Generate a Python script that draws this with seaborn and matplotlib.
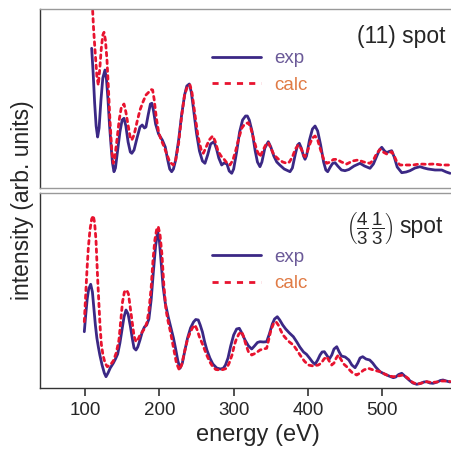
import matplotlib
matplotlib.use('Agg')
import matplotlib.pyplot as plt
import seaborn as sns

# (11) spot, energies in eV and intensities in arb. units
top_exp_energy = [109, 111, 113, 115, 117, 119, 121.5, 124, 126.9, 129, 131, 133, 135, 137, 139, 141,
                  144, 147, 150, 152.5, 155, 158, 161, 163, 166, 170, 174, 177, 180, 182, 185, 188,
                  190, 192, 195, 199, 204, 208, 211, 214, 216.6, 219, 222, 226, 230, 234, 237, 240.3,
                  243, 246, 250, 254, 258, 261.4, 265, 269, 273.6, 277, 280, 283.9, 287, 291, 294,
                  297.4, 300, 304, 308, 312, 316, 318.4, 321, 325, 329, 332, 335.4, 338, 342, 346.6,
                  350, 354, 358, 362, 368, 375.8, 379, 383, 386, 388.3, 391, 394, 396, 398, 402, 406,
                  409.5, 413, 417, 421, 424, 426.5, 430, 433, 436.4, 440, 445, 449.8, 455, 462, 470,
                  476, 483.4, 488, 492, 496, 499.2, 503, 506, 509, 512.6, 516, 520, 526.1, 532, 537.2,
                  544, 550.7, 556, 561.5, 570.9, 580, 586, 591.1]
top_exp = [13.97, 11.5, 8.5, 6.2, 5.1, 6.0, 8.8, 11.0, 11.8, 10.8, 8.8, 6.3, 4.3, 2.5, 1.63, 2.0,
           3.8, 5.6, 6.8, 6.97, 6.2, 4.6, 3.6, 3.47, 3.8, 5.0, 6.1, 6.3, 6.0, 6.1, 7.3, 8.4,
           8.47, 7.8, 6.4, 5.4, 4.8, 4.1, 2.9, 1.9, 1.63, 1.9, 2.8, 4.8, 7.3, 9.3, 10.2, 10.4,
           9.6, 7.9, 5.5, 3.7, 2.7, 2.47, 3.3, 4.4, 4.63, 3.9, 3.0, 2.3, 2.5, 2.4, 1.7,
           1.47, 1.9, 3.6, 5.6, 6.8, 7.2, 7.2, 6.8, 5.6, 3.7, 2.6, 2.13, 2.6, 4.0, 4.63,
           4.1, 3.2, 2.6, 2.3, 1.9, 1.63, 2.0, 3.4, 4.3, 4.47, 4.0, 3.2, 2.87, 3.2, 4.8, 5.9,
           6.2, 5.7, 4.3, 2.6, 1.8, 1.63, 2.1, 2.45, 2.53, 2.2, 1.8, 1.73, 1.85, 2.2, 2.47,
           2.2, 1.97, 2.4, 3.1, 3.8, 4.07, 3.7, 3.53, 3.65, 3.73, 3.1, 2.1, 1.53, 1.6, 1.73,
           2.0, 2.13, 2.0, 1.9, 1.8, 1.8, 1.6, 1.47]

top_calc_energy = [109.8, 111.5, 113.5, 116, 117.9, 120, 122, 124, 125.6, 127.5, 129.6, 131.5, 133.6,
                   136, 138.1, 140, 143, 146, 149, 152.5, 155, 158, 161, 163, 166, 170, 174, 178,
                   182, 186, 189, 191, 193, 196, 199, 202, 206, 210, 214, 218.8, 222, 226, 230, 234,
                   238, 241.3, 244, 248, 252, 256, 259.2, 263, 267, 271.8, 275, 279, 283, 286.1, 291,
                   295.1, 299, 303, 307, 311, 315, 319.7, 323, 327, 331, 335.4, 339, 343, 346.6, 350,
                   354.3, 360, 366, 371.4, 375, 379, 383, 387, 391, 394, 396, 399, 403, 406, 409.5,
                   413, 417, 421, 425.2, 430, 434, 438.7, 445, 452.1, 460, 467.3, 475, 483.4, 488,
                   492, 496.9, 501, 505.9, 509, 512.6, 516, 519, 523.8, 532, 541.3, 550, 559.7, 570,
                   580, 591.1]
top_calc = [18.5, 16.0, 13.8, 11.2, 10.3, 12.0, 14.0, 15.3, 15.57, 14.8, 12.8, 10.0, 6.8,
            3.8, 2.47, 3.0, 4.8, 6.8, 8.1, 8.4, 7.6, 6.3, 5.0, 4.8, 5.3, 6.6, 7.8, 8.6,
            9.3, 9.6, 9.85, 9.8, 8.9, 7.0, 5.6, 4.9, 4.2, 3.4, 2.6, 2.3, 2.8, 4.5, 7.2, 9.3,
            10.2, 10.3, 9.5, 7.3, 5.2, 3.9, 3.47, 4.1, 4.8, 5.2, 4.7, 3.7, 3.2, 2.97, 2.5,
            2.3, 2.8, 3.8, 5.0, 6.0, 6.4, 6.53, 6.0, 4.9, 3.8, 3.13, 3.7, 4.3, 4.53, 4.0,
            3.3, 2.9, 2.6, 2.47, 2.6, 3.1, 3.9, 4.3, 3.9, 3.3, 3.13, 3.6, 4.5, 5.0, 5.2,
            4.8, 3.8, 2.9, 2.47, 2.6, 2.85, 2.87, 2.6, 2.4, 2.7, 2.8, 2.6, 2.47, 2.8,
            3.4, 3.87, 3.6, 3.4, 3.5, 3.63, 3.2, 2.7, 2.3, 2.3, 2.3, 2.4, 2.37, 2.4,
            2.3, 2.3]

# (4/3 1/3) spot
bot_exp_energy = [99.1, 101, 103, 105, 107.7, 110, 112, 114, 116, 118, 120, 123, 126, 128.3, 131, 134,
                  138, 141, 144, 147, 150, 152.5, 155.2, 158, 161, 164, 166, 168.6, 171, 174, 177,
                  180, 183, 186, 189, 192, 195, 197.8, 200, 202.2, 205, 208, 212, 216, 219, 222, 225,
                  227.8, 231, 234.5, 238, 242, 246, 249, 252.4, 255, 258, 261, 264, 268, 272, 277.2,
                  282, 286.1, 289, 292.4, 296, 300, 304, 307.6, 311, 315.3, 320, 324.3, 328, 332,
                  335.4, 340, 344.4, 348, 352, 355, 358.7, 362, 366, 370, 375, 380.3, 385, 389, 394,
                  398, 402, 406, 409.5, 413, 416.2, 419, 422, 425, 428.7, 432, 435, 438.7, 442, 445,
                  450, 455, 459, 463.3, 467, 470, 473.6, 478, 483, 487, 491, 496.9, 503, 509, 514.8,
                  518, 522, 526.1, 530, 535.9, 541, 546.3, 551, 556, 559.7, 564, 568.2, 574, 578,
                  581.6, 586, 591.1]
bot_exp = [5.63, 7.3, 8.9, 9.9, 10.37, 9.6, 7.9, 6.3, 5.0, 4.1, 3.3, 2.3, 1.5, 1.13, 1.5, 2.0,
           2.47, 2.9, 3.4, 4.5, 5.9, 7.1, 7.8, 7.4, 6.2, 4.8, 4.0, 3.8, 4.1, 4.8, 5.6,
           6.1, 6.3, 6.9, 8.8, 11.6, 14.2, 15.63, 14.8, 12.8, 10.2, 8.5, 7.1, 5.9, 5.0, 3.9, 2.7,
           1.97, 2.5, 3.8, 5.0, 6.0, 6.6, 6.85, 6.8, 6.3, 5.6, 4.6, 3.8, 3.0, 2.4, 2.0,
           1.9, 1.97, 2.3, 3.0, 4.2, 5.3, 5.9, 5.97, 5.5, 4.8, 4.2, 3.9, 4.2, 4.55,
           4.63, 4.6, 4.63, 5.4, 6.4, 6.9, 7.13, 6.8, 6.3, 5.9, 5.5, 5.13, 4.6, 4.1, 3.6,
           3.37, 3.0, 2.6, 2.37, 2.8, 3.3, 3.6, 3.63, 3.3, 2.9, 3.3, 3.9, 4.13, 3.6, 3.2,
           3.1, 2.8, 2.3, 2.03, 2.5, 3.0, 3.13, 2.9, 2.8, 2.5, 2.1, 1.63, 1.4, 1.2, 1.03,
           1.1, 1.35, 1.47, 1.2, 0.8, 0.5, 0.37, 0.45, 0.6, 0.63, 0.5, 0.47, 0.6, 0.75,
           0.8, 0.7, 0.6]

bot_calc_energy = [99.1, 101, 102.7, 104.5, 106.7, 109, 111.2, 113, 114.8, 117, 120.2, 122, 124.2, 127,
                   130, 134, 138, 142, 145.7, 148, 150.5, 153, 156.1, 158.5, 160.5, 163, 166, 168.6,
                   171, 174, 177, 180.7, 183.5, 186.1, 189, 191.5, 194, 196.5, 198.6, 201, 203.6, 206,
                   209, 212, 215, 219.7, 223, 226.9, 230, 234.5, 238, 241.3, 244.5, 248, 251, 254,
                   258, 263.7, 268, 272.2, 276, 281.6, 286, 290.6, 294, 297.8, 301, 303.2, 307, 310.8,
                   313.5, 316.6, 320, 324.3, 330, 335.4, 340, 344.4, 347, 350.2, 353.5, 356.9, 360,
                   363, 366.4, 371, 375, 380.3, 385, 389.3, 395, 400.4, 407, 413.9, 418, 421.5, 425.2,
                   428.5, 431.9, 435, 438, 440.8, 444, 448, 452.1, 456, 460, 465.5, 470, 475, 481.1,
                   488, 496.9, 503, 509, 514.8, 521, 528.2, 534, 540, 546.3, 553, 559.7, 566, 573.2,
                   580, 586.6, 591]
bot_calc = [6.63, 9.3, 11.8, 14.0, 15.8, 16.9, 17.23, 16.5, 14.8, 11.0, 6.3, 4.4, 3.3, 2.5,
            2.13, 2.3, 2.7, 3.5, 4.8, 6.6, 8.6, 9.6, 9.8, 9.4, 8.3, 6.9, 5.2, 4.63,
            4.8, 5.3, 5.6, 6.0, 6.6, 7.8, 10.0, 12.8, 14.8, 15.9, 16.13, 15.3, 13.3, 10.4,
            7.8, 6.6, 5.6, 3.8, 2.5, 1.8, 2.3, 3.8, 4.9, 5.5, 6.0, 6.3, 5.8, 5.1,
            4.4, 3.3, 2.6, 2.1, 1.85, 1.8, 1.85, 1.97, 2.5, 3.3, 4.3, 4.8, 5.4, 5.63,
            5.1, 4.3, 3.6, 3.3, 3.5, 3.8, 3.9, 3.97, 4.8, 5.8, 6.4, 6.63, 6.3,
            5.8, 5.3, 4.9, 4.6, 4.3, 3.8, 3.3, 2.7, 2.3, 2.2, 2.3, 2.5, 2.9, 3.13,
            2.7, 2.3, 2.5, 3.0, 3.3, 2.9, 2.4, 2.13, 1.8, 1.5, 1.3, 1.5, 1.8, 1.97,
            1.8, 1.63, 1.4, 1.2, 1.13, 1.2, 1.3, 1.0, 0.6, 0.37, 0.5, 0.63, 0.55, 0.6,
            0.7, 0.7, 0.65]

xticks = [100, 200, 300, 400, 500]

sns.set_style('white')
plt.rcParams['font.family'] = ['Liberation Sans', 'DejaVu Sans']
plt.rcParams['mathtext.fontset'] = 'custom'
plt.rcParams['mathtext.rm'] = 'Liberation Sans'
plt.rcParams['mathtext.it'] = 'Liberation Sans:italic'

exp_color = '#3b2885'
calc_color = '#e8132f'

# axes run a bit past the right edge of the picture (it is cropped there)
fig = plt.figure(figsize=(4.52, 4.53), dpi=100)
ax_top = fig.add_axes([40 / 452, 1 - 188 / 453, 436 / 452, 179 / 453])
ax_bot = fig.add_axes([40 / 452, 1 - 388 / 453, 436 / 452, 195 / 453])


def draw_panel(ax, e_exp, i_exp, e_calc, i_calc, ymax, leg_y):
    sns.lineplot(x=e_exp, y=i_exp, ax=ax, color=exp_color, lw=2.0, label='exp')
    sns.lineplot(x=e_calc, y=i_calc, ax=ax, color=calc_color, lw=2.0,
                 linestyle=(0, (1.3, 1.5)), label='calc')
    for line in ax.lines:
        line.set_solid_joinstyle('round')
        line.set_dash_capstyle('round')
    ax.set_xlim(39.5, 626)
    ax.set_ylim(0, ymax)
    ax.set_yticks([])
    ax.set_ylabel('')
    ax.spines['right'].set_visible(False)
    ax.spines['left'].set_color('#333333')
    ax.spines['top'].set_color('#999999')
    ax.spines['bottom'].set_color('#999999')
    for s in ax.spines.values():
        s.set_linewidth(1.0)
    leg = ax.legend(loc='upper left', bbox_to_anchor=(0.394, leg_y), frameon=False,
                    fontsize=13.5, handlelength=2.6, handletextpad=0.75,
                    borderpad=0, borderaxespad=0, labelspacing=0.5,
                    labelcolor=['#6b5a98', '#e07b45'])
    leg.get_lines()[1].set_linestyle((0, (2.2, 2.2)))
    leg.get_lines()[1].set_dash_capstyle('butt')


draw_panel(ax_top, top_exp_energy, top_exp, top_calc_energy, top_calc, 17.9, 0.77)
draw_panel(ax_bot, bot_exp_energy, bot_exp, bot_calc_energy, bot_calc, 19.5, 0.715)

ax_top.text(0.929, 0.844, '(11) spot', transform=ax_top.transAxes, ha='right',
            va='center', fontsize=16.5)
ax_bot.text(0.924, 0.826, 'spot', transform=ax_bot.transAxes, ha='right',
            va='center', fontsize=16.5)
ax_bot.text(0.812, 0.818, r'$\left(\dfrac{4}{3}\,\dfrac{1}{3}\right)$', transform=ax_bot.transAxes,
            ha='right', va='center', fontsize=13.5)

ax_top.set_xticks([])
ax_bot.spines['bottom'].set_color('#333333')
ax_bot.set_xticks(xticks)
ax_bot.tick_params(axis='x', direction='out', length=6, width=1.2, color='#333333',
                   labelsize=13.5, pad=4, bottom=True)
ax_bot.set_xlabel('energy (eV)', fontsize=17)

fig.text(23 / 452, 1 - 200 / 453, 'intensity (arb. units)', rotation=90,
         ha='center', va='center', fontsize=16.5)

fig.savefig('out.png', dpi=100)
